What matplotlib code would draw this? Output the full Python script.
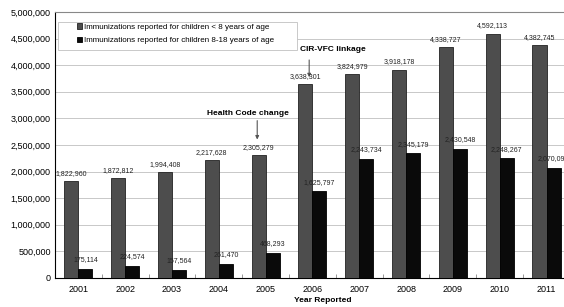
import matplotlib.pyplot as plt
from matplotlib.patches import Rectangle
import numpy as np

plt.rcParams['font.family'] = ['Liberation Sans', 'DejaVu Sans']

# donnees
annees = ["2001", "2002", "2003", "2004", "2005", "2006", "2007", "2008", "2009", "2010", "2011"]
moins_8 = [1822960, 1872812, 1994408, 2217628, 2305279, 3638301, 3824979, 3918178, 4338727, 4592113, 4382745]
de_8_18 = [175114, 224574, 157564, 261470, 468293, 1625797, 2243734, 2345179, 2430548, 2248267, 2070095]
labels_legende = ["Immunizations reported for children < 8 years of age",
                  "Immunizations reported for children 8-18 years of age"]

fig = plt.figure(figsize=(5.64, 3.07), dpi=100)
ax = fig.add_axes([0.0975, 0.0945, 0.913, 0.8665])

x = np.arange(len(annees))
w = 0.3
ax.bar(x - w / 2, moins_8, w, color="#4d4d4d", edgecolor="#222222", linewidth=0.6,
       label=labels_legende[0], zorder=3)
ax.bar(x + w / 2, de_8_18, w, color="#0a0a0a", edgecolor="#000000", linewidth=0.6,
       label=labels_legende[1], zorder=3)

# etiquettes de valeurs
for xi, v in zip(x, moins_8):
    ax.annotate(f"{v:,}", (xi - w / 2, v), xytext=(0, 3), textcoords="offset points",
                ha="center", va="bottom", fontsize=5, color="#222222", zorder=4)
for xi, v in zip(x, de_8_18):
    ax.annotate(f"{v:,}", (xi + w / 2, v), xytext=(0, 4), textcoords="offset points",
                ha="center", va="bottom", fontsize=5, color="#222222", zorder=4)

ax.set_xlim(-0.5, len(annees) - 0.5)
ax.set_ylim(0, 5000000)
ax.set_yticks(np.arange(0, 5000001, 500000))
ax.set_yticklabels([f"{int(t):,}" for t in np.arange(0, 5000001, 500000)], fontsize=6.5)
ax.set_xticks(x)
ax.set_xticklabels(annees, fontsize=6.5)
ax.tick_params(axis="x", length=0, pad=5)
ax.set_xticks(np.arange(-0.5, len(annees), 1), minor=True)
ax.tick_params(axis="x", which="minor", length=3, direction="in", color="#888888")
ax.tick_params(axis="y", length=0, pad=3)

ax.grid(axis="y", color="#c8c8c8", linewidth=0.7, zorder=0)
ax.spines["top"].set_color("#888888")
ax.spines["right"].set_visible(False)
ax.spines["left"].set_linewidth(0.8)
ax.spines["bottom"].set_linewidth(0.8)

ax.set_xlabel("Year Reported", fontsize=6, fontweight="bold")
ax.xaxis.set_label_coords(0.52, -0.072)

# annotations
ax.text(3.63, 3.1e6, "Health Code change", fontsize=6, fontweight="bold", ha="center", va="center")
ax.annotate("", xy=(3.82, 2.55e6), xytext=(3.82, 3.01e6),
            arrowprops=dict(arrowstyle="-|>", color="#555555", lw=0.8, mutation_scale=5))
ax.text(5.43, 4.3e6, "CIR-VFC linkage", fontsize=6, fontweight="bold", ha="center", va="center")
ax.annotate("", xy=(4.93, 3.72e6), xytext=(4.93, 4.15e6),
            arrowprops=dict(arrowstyle="-|>", color="#555555", lw=0.8, mutation_scale=5))

# cadre de la legende (plus large que le texte, comme dans Excel)
ax.add_patch(Rectangle((0.006, 0.857), 0.464, 0.105, transform=ax.transAxes,
                       facecolor="white", edgecolor="#c0c0c0", linewidth=0.6, zorder=5))
leg = ax.legend(loc="upper left", bbox_to_anchor=(0.042, 0.957), fontsize=5.8, frameon=False,
                handlelength=0.7, handleheight=0.7, handletextpad=0.2, borderpad=0,
                labelspacing=0.7, borderaxespad=0)
leg.set_zorder(6)

fig.savefig("out.png", dpi=100)
